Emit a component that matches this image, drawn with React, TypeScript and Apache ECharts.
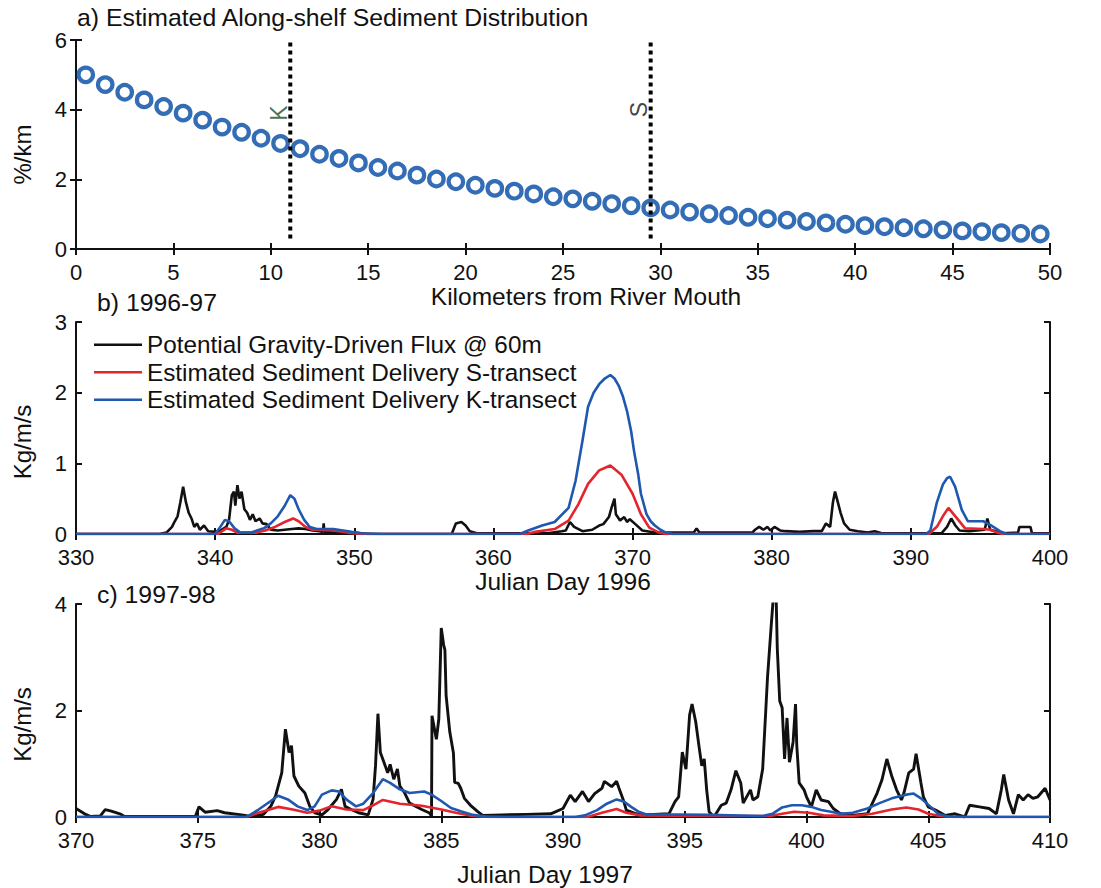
import React, { useEffect, useRef } from "react";
import * as echarts from "echarts";

// ---------- data ----------
const kmPositions = [0.5,1.5,2.5,3.5,4.5,5.5,6.5,7.5,8.5,9.5,10.5,11.5,12.5,13.5,14.5,15.5,16.5,17.5,18.5,19.5,20.5,21.5,22.5,23.5,24.5,25.5,26.5,27.5,28.5,29.5,30.5,31.5,32.5,33.5,34.5,35.5,36.5,37.5,38.5,39.5,40.5,41.5,42.5,43.5,44.5,45.5,46.5,47.5,48.5,49.5];
const sedimentPctPerKm = [5.0,4.72,4.5,4.28,4.09,3.9,3.7,3.5,3.35,3.18,3.03,2.88,2.72,2.6,2.47,2.34,2.24,2.12,2.01,1.93,1.83,1.74,1.66,1.58,1.5,1.44,1.37,1.3,1.24,1.18,1.12,1.06,1.01,0.96,0.91,0.87,0.83,0.79,0.75,0.71,0.67,0.64,0.61,0.58,0.55,0.52,0.5,0.47,0.45,0.43];

const transectLines = [
  { name: "K", km: 11, yFrom: 0.3, yTo: 6, labelKm: 10.4, labelY: 3.9, color: "#1b4a22" },
  { name: "S", km: 29.5, yFrom: 0.3, yTo: 6, labelKm: 28.9, labelY: 4.0, color: "#111111" },
];

const flux96: [number, number][] = [[330,0],[336.0,0],[336.5,0.02],[336.9,0.1],[337.1,0.18],[337.3,0.25],[337.5,0.45],[337.7,0.67],[337.9,0.45],[338.1,0.3],[338.3,0.22],[338.5,0.1],[338.7,0.15],[338.9,0.06],[339.2,0.12],[339.5,0.04],[340.0,0.03],[340.4,0.05],[340.8,0.1],[341.0,0.2],[341.2,0.55],[341.35,0.6],[341.45,0.4],[341.6,0.69],[341.75,0.5],[341.9,0.6],[342.1,0.35],[342.3,0.3],[342.5,0.2],[342.7,0.28],[342.9,0.18],[343.2,0.22],[343.4,0.15],[343.7,0.14],[344.0,0.06],[344.5,0.05],[345.0,0.06],[345.5,0.07],[346.0,0.08],[346.5,0.07],[347.0,0.05],[347.5,0.04],[347.75,0.03],[347.8,0.15],[347.85,0.03],[348.5,0.02],[350.0,0.02],[351,0],[357.0,0],[357.3,0.15],[357.7,0.17],[358.0,0.12],[358.3,0.04],[358.8,0.01],[363.9,0.01],[364.9,0.04],[365.2,0.05],[365.5,0.17],[365.8,0.1],[366.4,0.04],[367.1,0.06],[367.6,0.12],[367.9,0.14],[368.3,0.24],[368.5,0.38],[368.7,0.5],[368.8,0.28],[369.1,0.19],[369.4,0.24],[369.6,0.17],[369.8,0.21],[370.2,0.14],[370.7,0.05],[371.6,0.02],[374.4,0.02],[374.6,0.08],[374.8,0.02],[378.6,0.02],[378.8,0.06],[379.1,0.1],[379.4,0.06],[379.7,0.1],[379.9,0.05],[380.2,0.1],[380.6,0.05],[381.0,0.04],[382.0,0.03],[383.0,0.04],[383.6,0.04],[383.9,0.15],[384.2,0.1],[384.4,0.45],[384.55,0.6],[384.75,0.45],[384.95,0.3],[385.2,0.15],[385.6,0.06],[386.2,0.04],[386.9,0.02],[387.4,0.04],[387.9,0.01],[392.2,0.01],[392.6,0.1],[392.9,0.22],[393.2,0.12],[393.5,0.05],[394.2,0.04],[395.3,0.06],[395.5,0.22],[395.7,0.06],[396.6,0.01],[397.7,0.02],[397.8,0.1],[398.6,0.1],[398.7,0.01],[400,0.01]];

const sTransect96: [number, number][] = [[330,0],[340.2,0],[340.5,0.04],[340.8,0.08],[341.2,0.06],[341.6,0.02],[343.0,0.02],[343.6,0.05],[344.3,0.1],[345.0,0.17],[345.6,0.22],[346.0,0.18],[346.5,0.1],[347.0,0.06],[348.5,0.05],[349.5,0.02],[350.5,0],[362.4,0],[363.0,0.03],[364.4,0.07],[365.4,0.19],[366.1,0.42],[366.8,0.71],[367.6,0.9],[368.4,0.97],[369.2,0.84],[370.0,0.57],[370.6,0.28],[371.2,0.09],[371.9,0.02],[372.4,0],[391.3,0],[391.9,0.11],[392.3,0.25],[392.7,0.37],[393.2,0.25],[393.9,0.08],[395.2,0.07],[395.7,0.06],[396.2,0.02],[396.6,0],[400,0]];

const kTransect96: [number, number][] = [[330,0],[340.0,0],[340.3,0.08],[340.7,0.2],[341.0,0.18],[341.4,0.08],[341.8,0.02],[342.6,0.02],[343.0,0.05],[343.5,0.08],[344.0,0.15],[344.5,0.25],[345.0,0.4],[345.4,0.55],[345.7,0.5],[346.0,0.35],[346.4,0.2],[346.8,0.1],[347.3,0.07],[348.5,0.07],[349.2,0.05],[349.8,0.03],[350.5,0.01],[352,0],[361.9,0],[362.5,0.05],[363.5,0.12],[364.4,0.17],[365.4,0.37],[365.9,0.75],[366.4,1.32],[366.8,1.8],[367.2,2.0],[367.6,2.12],[368.0,2.2],[368.4,2.25],[368.7,2.2],[369.0,2.1],[369.3,1.95],[369.6,1.74],[369.9,1.45],[370.1,1.18],[370.4,0.85],[370.6,0.57],[371.0,0.28],[371.3,0.18],[371.6,0.12],[372.0,0.06],[372.4,0.02],[372.9,0],[391.1,0],[391.4,0.05],[391.86,0.44],[392.3,0.7],[392.6,0.79],[392.82,0.81],[393.18,0.67],[393.66,0.34],[394.1,0.18],[395.2,0.18],[395.7,0.13],[396.4,0.04],[396.9,0],[400,0]];

const flux97: [number, number][] = [[370.0,0.16],[370.35,0.06],[370.6,0.01],[371.0,0.02],[371.2,0.14],[371.45,0.11],[371.8,0.06],[372.0,0.01],[374.9,0.01],[375.05,0.19],[375.3,0.09],[375.8,0.12],[376.1,0.08],[376.8,0.04],[377.2,0.01],[377.7,0.05],[378.0,0.2],[378.2,0.4],[378.45,0.83],[378.6,1.65],[378.75,1.21],[378.85,1.34],[378.95,0.77],[379.15,0.58],[379.4,0.45],[379.6,0.2],[379.8,0.08],[380.1,0.04],[380.35,0.14],[380.7,0.33],[380.9,0.52],[381.05,0.2],[381.3,0.14],[381.6,0.08],[382.0,0.04],[382.2,0.33],[382.3,0.96],[382.4,1.94],[382.5,1.21],[382.7,0.96],[382.8,0.83],[382.9,0.99],[383.05,0.71],[383.2,0.9],[383.3,0.58],[383.5,0.45],[383.7,0.26],[384.2,0.14],[384.5,0.08],[384.6,0.02],[384.62,1.9],[384.8,1.46],[384.9,1.84],[385.0,3.55],[385.1,3.23],[385.15,3.14],[385.2,2.28],[385.35,1.6],[385.5,1.2],[385.55,0.65],[385.7,0.63],[385.8,0.54],[385.95,0.35],[386.2,0.22],[386.5,0.1],[386.7,0.03],[387.5,0.04],[388.5,0.05],[389.5,0.06],[390.0,0.16],[390.3,0.41],[390.5,0.29],[390.8,0.48],[391.05,0.29],[391.3,0.44],[391.6,0.54],[391.7,0.67],[392.0,0.57],[392.2,0.67],[392.3,0.54],[392.5,0.29],[392.6,0.13],[393.0,0.06],[393.3,0.04],[394.35,0.06],[394.6,0.29],[394.75,0.38],[394.9,1.22],[395.05,0.9],[395.2,1.92],[395.3,2.12],[395.45,1.79],[395.6,1.28],[395.7,0.96],[395.8,1.09],[395.9,0.51],[396.0,0.1],[396.2,0],[396.5,0.22],[396.7,0.26],[396.9,0.51],[397.1,0.87],[397.3,0.64],[397.4,0.26],[397.7,0.51],[397.8,0.32],[398.0,0.38],[398.2,0.9],[398.4,2.63],[398.55,3.59],[398.65,4.2],[398.75,4.2],[398.8,3.17],[398.9,2.18],[399.0,2.05],[399.1,1.09],[399.2,1.86],[399.3,1.03],[399.45,1.41],[399.55,2.12],[399.6,1.35],[399.7,0.64],[399.9,0.51],[400.0,0.38],[400.2,0.19],[400.4,0.51],[400.6,0.32],[400.9,0.29],[401.1,0.16],[401.4,0.06],[401.9,0.03],[402.5,0.06],[402.9,0.45],[403.1,0.7],[403.3,1.09],[403.5,0.77],[403.7,0.51],[403.9,0.32],[404.0,0.45],[404.2,0.83],[404.4,0.9],[404.5,1.19],[404.7,0.64],[404.8,0.38],[405.0,0.19],[405.3,0.13],[405.7,0.03],[406.1,0.06],[406.5,0],[406.7,0.22],[407.1,0.19],[407.5,0.16],[407.8,0.06],[408.0,0.51],[408.1,0.8],[408.3,0.32],[408.5,0.06],[408.7,0.42],[408.9,0.32],[409.1,0.42],[409.3,0.35],[409.5,0.38],[409.8,0.54],[410.0,0.32]];

const sTransect97: [number, number][] = [[370,0],[377.0,0],[377.5,0.08],[378.3,0.19],[378.9,0.14],[379.5,0.08],[380.0,0.12],[380.5,0.2],[381.1,0.14],[381.8,0.13],[382.2,0.22],[382.6,0.32],[383.3,0.25],[384.2,0.21],[385.0,0.14],[385.6,0.08],[386.3,0.02],[387,0],[391.0,0],[391.6,0.08],[392.2,0.15],[392.6,0.08],[393.2,0.03],[396.0,0.02],[398.5,0.02],[399.0,0.06],[399.5,0.1],[400.1,0.08],[400.7,0.03],[401.9,0.02],[402.7,0.06],[403.5,0.14],[404.1,0.18],[404.6,0.14],[405.0,0.06],[405.5,0.02],[406,0],[410,0]];

const kTransect97: [number, number][] = [[370,0],[377.0,0],[377.5,0.14],[378.0,0.3],[378.3,0.4],[378.7,0.33],[379.1,0.2],[379.5,0.13],[379.8,0.2],[380.1,0.42],[380.5,0.5],[380.8,0.48],[381.1,0.33],[381.5,0.2],[381.8,0.25],[382.2,0.45],[382.6,0.71],[382.9,0.64],[383.3,0.52],[383.7,0.45],[384.3,0.48],[384.6,0.42],[385.0,0.3],[385.4,0.17],[385.8,0.11],[386.3,0.04],[386.8,0.01],[387.5,0],[390.5,0],[390.9,0.03],[391.4,0.13],[391.8,0.25],[392.2,0.33],[392.5,0.29],[392.8,0.19],[393.1,0.1],[393.4,0.05],[396.0,0.04],[398.2,0.02],[398.6,0.06],[399.0,0.18],[399.4,0.22],[399.8,0.22],[400.2,0.19],[400.6,0.13],[401.0,0.1],[401.4,0.06],[401.9,0.08],[402.5,0.16],[403.0,0.26],[403.5,0.35],[404.1,0.42],[404.4,0.44],[404.7,0.35],[405.1,0.19],[405.4,0.06],[405.8,0.01],[406.5,0],[410,0]];

const seriesNames = [
  "Potential Gravity-Driven Flux @ 60m",
  "Estimated Sediment Delivery S-transect",
  "Estimated Sediment Delivery K-transect",
];
const panelTitles = ["a) Estimated Along-shelf Sediment Distribution", "b) 1996-97", "c) 1997-98"];
const xAxisNames = ["Kilometers from River Mouth", "Julian Day 1996", "Julian Day 1997"];
const yAxisNames = ["%/km", "Kg/m/s", "Kg/m/s"];

// ---------- styling ----------
const FONT = "'Liberation Sans', Arial, Helvetica, sans-serif";
const BLACK = "#111111";
const RED = "#e3252e";
const BLUE = "#1f58b0";
const CIRCLE_BLUE = "#0049a3";

export default function App() {
  const ref = useRef<HTMLDivElement>(null);

  useEffect(() => {
    if (!ref.current) return;
    const chart = echarts.init(ref.current, undefined, { renderer: "svg" });

    const grids = [
      { left: 76, top: 40, width: 974, height: 209 },
      { left: 76, top: 322, width: 974, height: 212 },
      { left: 76, top: 604, width: 974, height: 213 },
    ];
    const xRanges = [
      { min: 0, max: 50, interval: 5 },
      { min: 330, max: 400, interval: 10 },
      { min: 370, max: 410, interval: 5 },
    ];
    const yRanges = [
      { min: 0, max: 6, interval: 2 },
      { min: 0, max: 3, interval: 1 },
      { min: 0, max: 4, interval: 2 },
    ];
    const xNameGaps = [29, 32, 45];
    const xNamePads = [[0, 0, 0, 46], [0, 0, 0, 0], [0, 36, 0, 0]];
    const yNamePads = [[0, 20, 0, 0], [0, 28, 0, 0], [0, 28, 0, 0]];

    const axisLine = { show: true, lineStyle: { color: BLACK, width: 2 } };
    const tick = { show: true, inside: true, length: 6, lineStyle: { color: BLACK, width: 2 } };

    const xAxis: any[] = [];
    const yAxis: any[] = [];
    for (let i = 0; i < 3; i++) {
      xAxis.push({
        type: "value", gridIndex: i, position: "bottom", ...xRanges[i],
        axisLine, axisTick: tick, splitLine: { show: false },
        axisLabel: { show: true, color: BLACK, fontSize: 22, fontFamily: FONT, margin: 12 },
        name: xAxisNames[i], nameLocation: "middle", nameGap: xNameGaps[i],
        nameTextStyle: { color: BLACK, fontSize: 24.5, fontFamily: FONT, padding: xNamePads[i] },
      });
      xAxis.push({
        type: "value", gridIndex: i, position: "top", ...xRanges[i],
        axisLine, axisTick: tick, splitLine: { show: false }, axisLabel: { show: false },
      });
      yAxis.push({
        type: "value", gridIndex: i, position: "left", ...yRanges[i],
        axisLine, axisTick: tick, splitLine: { show: false },
        axisLabel: { show: true, color: BLACK, fontSize: 22, fontFamily: FONT, margin: 9 },
        name: yAxisNames[i], nameLocation: "middle", nameGap: 42, nameRotate: 90,
        nameTextStyle: { color: BLACK, fontSize: 24, fontFamily: FONT, padding: yNamePads[i] },
      });
      yAxis.push({
        type: "value", gridIndex: i, position: "right", ...yRanges[i],
        axisLine, axisTick: tick, splitLine: { show: false }, axisLabel: { show: false },
      });
    }

    const series: any[] = [];
    // panel a
    series.push({
      type: "scatter", xAxisIndex: 0, yAxisIndex: 0, symbol: "circle", symbolSize: 14.5,
      itemStyle: { color: "rgba(255,255,255,0)", borderColor: CIRCLE_BLUE, borderWidth: 4.2 },
      data: kmPositions.map((k, i) => [k, sedimentPctPerKm[i]]),
      z: 3,
    });
    transectLines.forEach((t) => {
      series.push({
        type: "line", xAxisIndex: 0, yAxisIndex: 0, symbol: "none",
        lineStyle: { color: "#000", width: 4, type: [4, 4], cap: "butt" },
        data: [[t.km, t.yFrom], [t.km, t.yTo]], z: 4,
      });
      series.push({
        type: "scatter", xAxisIndex: 0, yAxisIndex: 0, symbolSize: 2,
        itemStyle: { color: "rgba(0,0,0,0)" },
        label: { show: true, formatter: t.name, rotate: 90, position: "inside", color: t.color, fontSize: 23, fontFamily: FONT },
        data: [[t.labelKm, t.labelY]], z: 5,
      });
    });
    // panel b
    const lw = 2.6;
    series.push({ name: seriesNames[0], type: "line", xAxisIndex: 2, yAxisIndex: 2, symbol: "none", lineStyle: { color: BLACK, width: lw }, itemStyle: { color: BLACK }, data: flux96 });
    series.push({ name: seriesNames[1], type: "line", xAxisIndex: 2, yAxisIndex: 2, symbol: "none", lineStyle: { color: RED, width: lw }, itemStyle: { color: RED }, data: sTransect96 });
    series.push({ name: seriesNames[2], type: "line", xAxisIndex: 2, yAxisIndex: 2, symbol: "none", lineStyle: { color: BLUE, width: lw }, itemStyle: { color: BLUE }, data: kTransect96 });
    // panel c
    series.push({ name: seriesNames[0], type: "line", xAxisIndex: 4, yAxisIndex: 4, symbol: "none", lineStyle: { color: BLACK, width: 2.9 }, itemStyle: { color: BLACK }, data: flux97 });
    series.push({ name: seriesNames[1], type: "line", xAxisIndex: 4, yAxisIndex: 4, symbol: "none", lineStyle: { color: RED, width: lw }, itemStyle: { color: RED }, data: sTransect97 });
    series.push({ name: seriesNames[2], type: "line", xAxisIndex: 4, yAxisIndex: 4, symbol: "none", lineStyle: { color: BLUE, width: lw }, itemStyle: { color: BLUE }, data: kTransect97 });

    const titleTops = [5, 290, 582];
    const titleLefts = [77, 97, 97];

    chart.setOption({
      animation: false,
      backgroundColor: "#ffffff",
      title: panelTitles.map((t, i) => ({
        text: t, left: titleLefts[i], top: titleTops[i], padding: 0,
        textStyle: { color: BLACK, fontSize: 24.8, fontWeight: "normal", fontFamily: FONT },
      })),
      legend: {
        show: true, orient: "vertical", left: 94, top: 331, padding: 0,
        icon: "rect", itemWidth: 48, itemHeight: 2.4, itemGap: 0,
        data: seriesNames,
        selectedMode: false,
        textStyle: { color: BLACK, fontSize: 24.3, fontFamily: FONT, lineHeight: 27.5 },
      },
      grid: grids,
      xAxis,
      yAxis,
      series,
    });

    return () => chart.dispose();
  }, []);

  return <div ref={ref} style={{ position: "absolute", left: 0, top: 0, width: 1101, height: 888, background: "#fff" }} />;
}
